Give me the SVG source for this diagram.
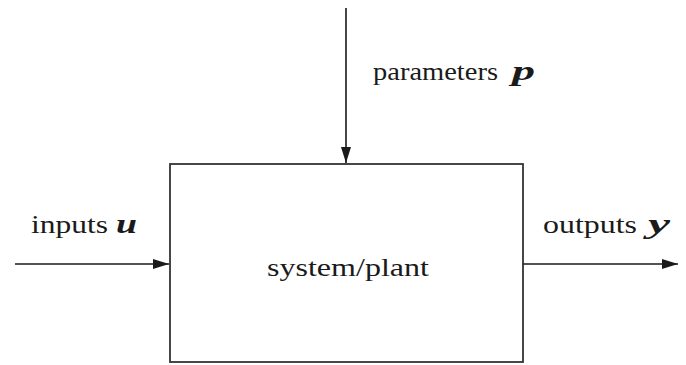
<svg xmlns="http://www.w3.org/2000/svg" width="686" height="365" viewBox="0 0 686 365">
<style>
.t{font-family:"Liberation Serif","Times New Roman",serif;font-size:26px;fill:#1a1a1a}
.v{font-weight:bold;font-style:italic;font-size:28px}
.c{stroke:#1a1a1a;stroke-width:1.6;fill:none}
</style>
<defs>
<marker id="ah" viewBox="0 0 16 10" refX="16" refY="5" markerWidth="16" markerHeight="10" markerUnits="userSpaceOnUse" orient="auto">
<path d="M0,0 L16,5 L0,10 Z" fill="#1a1a1a"/>
</marker>
</defs>
<rect width="686" height="365" fill="#fff"/>
<g id="plant">
<rect x="170" y="164" width="353" height="198" fill="#fff" stroke="#333" stroke-width="1.8"/>
<text class="t" x="267" y="276" textLength="162" lengthAdjust="spacingAndGlyphs">system/plant</text>
</g>
<g id="connectors">
<line class="c" x1="346" y1="8" x2="346" y2="163" marker-end="url(#ah)"/>
<line class="c" x1="15" y1="264" x2="169" y2="264" marker-end="url(#ah)"/>
<line class="c" x1="523" y1="264" x2="678" y2="264" marker-end="url(#ah)"/>
</g>
<g id="labels">
<text class="t" x="373" y="80"><tspan textLength="125" lengthAdjust="spacingAndGlyphs">parameters</tspan><tspan class="v" x="512" textLength="23" lengthAdjust="spacingAndGlyphs">p</tspan></text>
<text class="t" x="31" y="233"><tspan textLength="77" lengthAdjust="spacingAndGlyphs">inputs</tspan><tspan class="v" x="116" textLength="21" lengthAdjust="spacingAndGlyphs">u</tspan></text>
<text class="t" x="543" y="233"><tspan textLength="94" lengthAdjust="spacingAndGlyphs">outputs</tspan><tspan class="v" x="648" textLength="22" lengthAdjust="spacingAndGlyphs">y</tspan></text>
</g>
</svg>
